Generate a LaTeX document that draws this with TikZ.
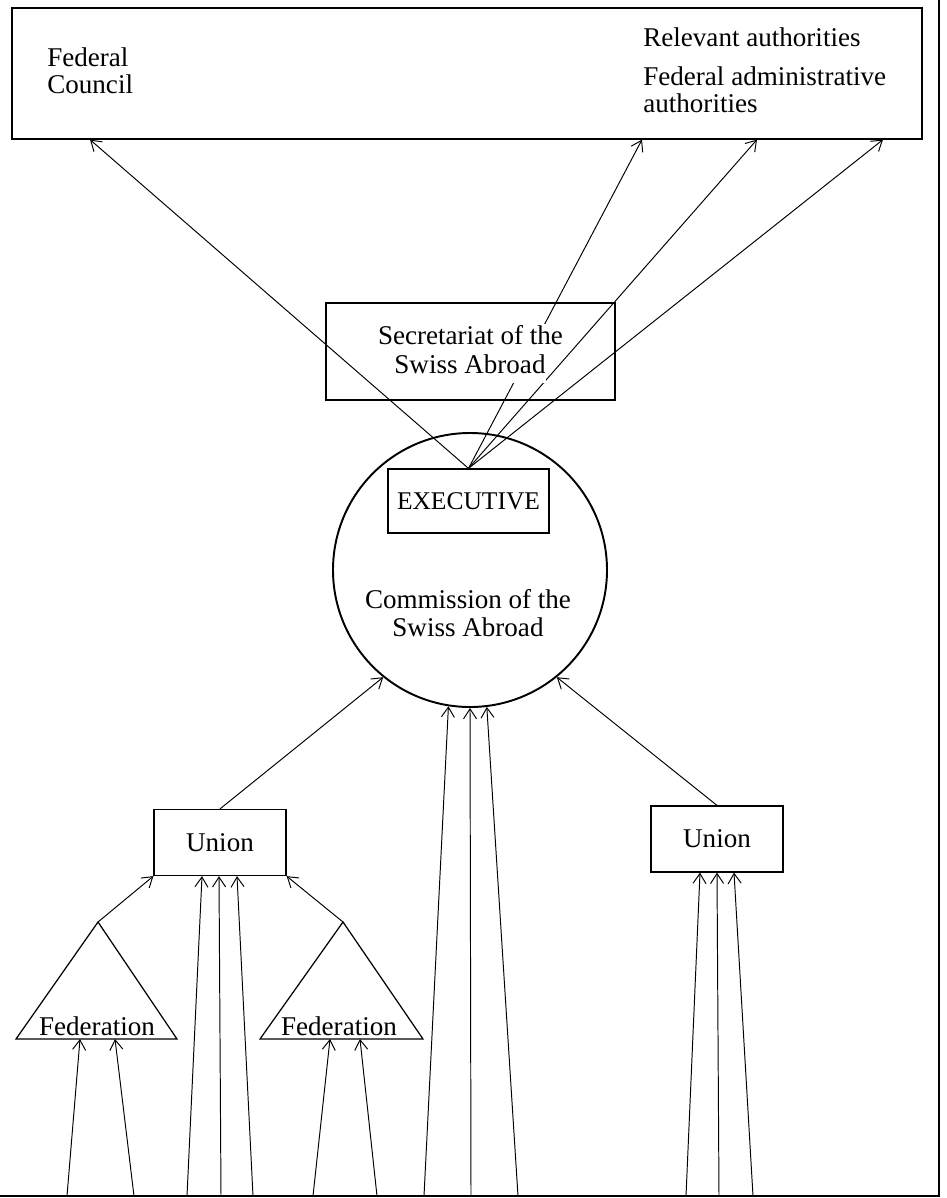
\documentclass[tikz,border=0pt]{standalone}
\usepackage{fontspec}
\setmainfont{Liberation Serif}
\usetikzlibrary{arrows.meta,calc}

\begin{document}
\begin{tikzpicture}[x=0.2mm,y=-0.2mm,
        lbl/.style={font=\fontsize{15.4}{15.5}\selectfont,inner sep=0pt,align=left},
        box/.style={draw,line width=0.7pt,inner sep=0pt,font=\fontsize{15.4}{15.5}\selectfont},
        arr/.style={-{Straight Barb[length=2mm,width=2.6mm]},line width=0.55pt},
        over/.style={lbl,fill=white,text height=11pt,text depth=5pt,inner sep=0.5pt}]
            \useasboundingbox (0,0) rectangle (946,1198);
            \draw[line width=1.1pt] (939,0) -- (939,1196) -- (0,1196);

            \node[box,minimum width=182mm,minimum height=26.2mm] (top) at (467,73.5) {};
            \node[lbl,anchor=west] (fc) at (47,71) {Federal\\Council};
            \node[lbl,anchor=west] (rel) at (643,37) {Relevant authorities};
            \node[lbl,anchor=west] (fad) at (643,89.5) {Federal administrative\\authorities};

            \node[box,minimum width=57.8mm,minimum height=19.4mm] (sec) at (470.5,351.5) {};
            \node[circle,draw,line width=1.1pt,minimum size=54.8mm] (comm) at (470,570) {};
            \node[box,minimum width=32.2mm,minimum height=12.8mm,font=\fontsize{14.5}{15}\selectfont] (exec) at (468.5,501) {EXECUTIVE};
            \node[lbl,align=center] (commtxt) at (468,613) {Commission of the\\Swiss Abroad};

            \node[box,minimum width=26.4mm,minimum height=13.2mm] (uL) at (220,842.5) {Union};
            \node[box,minimum width=26.4mm,minimum height=13.2mm] (uR) at (717,839) {Union};

            \coordinate (fLtop) at (98,922);
            \coordinate (fRtop) at (343,922);
            \coordinate (fLb) at (96.5,1039);
            \coordinate (fRb) at (341.5,1039);
            \draw[line width=0.7pt] (fLtop) -- (16,1039) -- (177,1039) -- cycle;
            \draw[line width=0.7pt] (fRtop) -- (260,1039) -- (423,1039) -- cycle;
            \node[lbl] (fL) at (97,1026) {Federation};
            \node[lbl] (fR) at (339,1026) {Federation};

            \foreach \x [count=\i] in {90,642,757,883}
                \draw[arr] (exec.north) -- (top.south -| \x,0) coordinate (t\i);

            \draw[arr] (uL.north) -- (comm.231);
            \draw[arr] (uR.north) -- (comm.309);
            \draw[arr] (fLtop) -- (uL.south west);
            \draw[arr] (fRtop) -- (uL.south east);

            \foreach \x/\a [count=\i] in {424/261.6,471/270,518/277}
                \draw[arr] (\x,1196) coordinate (gC\i) -- (comm.\a);
            \foreach \x/\d [count=\i] in {187/-18,221/-1,253/17}
                \draw[arr] (\x,1196) coordinate (gU\i) -- ($(uL.south)+(\d,0)$);
            \foreach \x/\d [count=\i] in {686/-17,719/0,753/17}
                \draw[arr] (\x,1196) coordinate (gV\i) -- ($(uR.south)+(\d,0)$);
            \foreach \x/\d [count=\i] in {67/-16.5,134/18.5}
                \draw[arr] (\x,1196) coordinate (gL\i) -- ($(fLb)+(\d,0)$);
            \foreach \x/\d [count=\i] in {313/-11.5,377/18.5}
                \draw[arr] (\x,1196) coordinate (gR\i) -- ($(fRb)+(\d,0)$);

            \node[over] (sect1) at (470.5,339) {Secretariat of the};
            \node[over] (sect2) at (470,368) {Swiss Abroad};
        \end{tikzpicture}
\end{document}
